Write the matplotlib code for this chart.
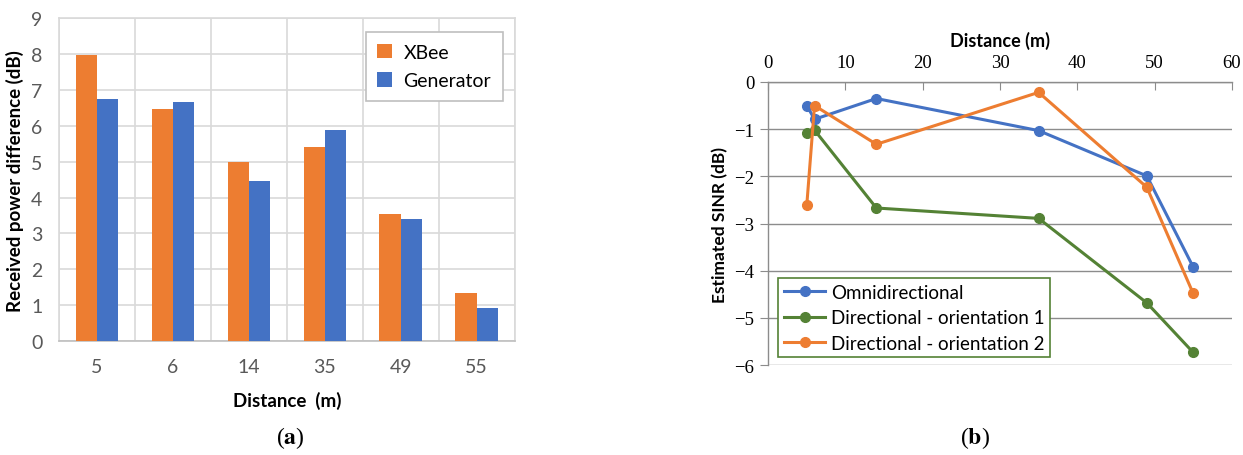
import matplotlib
matplotlib.use('Agg')
import matplotlib.pyplot as plt
import numpy as np

# (a) received power difference per distance
distances = ['5', '6', '14', '35', '49', '55']
xbee = [7.98, 6.47, 5.0, 5.42, 3.53, 1.33]
generator = [6.75, 6.65, 4.45, 5.87, 3.4, 0.93]

# (b) estimated SINR vs distance
dist_m = [5, 6, 14, 35, 49, 55]
omni = [-0.5, -0.79, -0.35, -1.03, -1.99, -3.92]
dir1 = [-1.08, -1.02, -2.67, -2.89, -4.68, -5.73]
dir2 = [-2.6, -0.5, -1.32, -0.22, -2.23, -4.48]

ORANGE = '#ED7D31'
BLUE = '#4472C4'
GREEN = '#548235'
SANS = ['Lato', 'DejaVu Sans']
SERIF = ['Liberation Serif', 'DejaVu Serif']

fig = plt.figure(figsize=(12.43, 4.56), dpi=100)

# ---- left: grouped bars
ax1 = fig.add_axes([0.0475, 0.25, 0.3665, 0.708])
x = np.arange(len(distances))
w = 0.28
ax1.bar(x - w / 2, xbee, w, color=ORANGE, label='XBee', zorder=3)
ax1.bar(x + w / 2, generator, w, color=BLUE, label='Generator', zorder=3)
ax1.set_xlim(-0.5, len(distances) - 0.5)
ax1.set_ylim(0, 9)
ax1.set_yticks(range(10))
ax1.set_xticks(x)
ax1.set_xticklabels(distances)
ax1.set_xticks(np.arange(-0.5, len(distances), 1), minor=True)
ax1.grid(True, which='major', axis='y', color='#d9d9d9', lw=1.2, zorder=0)
ax1.grid(True, which='minor', axis='x', color='#d9d9d9', lw=1.2, zorder=0)
ax1.tick_params(which='both', length=0)
ax1.tick_params(axis='y', pad=12)
ax1.tick_params(axis='x', pad=12)
for lab in ax1.get_xticklabels() + ax1.get_yticklabels():
    lab.set_family(SANS)
    lab.set_fontsize(14)
    lab.set_color('#595959')
for s in ax1.spines.values():
    s.set_color('#d9d9d9')
    s.set_linewidth(1.2)
ax1.spines['bottom'].set_color('#bfbfbf')
ax1.set_xlabel('Distance  (m)', family=SANS, fontsize=13.5, fontweight='bold', labelpad=12)
ax1.set_ylabel('Received power difference (dB)', family=SANS, fontsize=13.5,
               fontweight='bold', labelpad=5)
leg1 = ax1.legend(loc='upper right', bbox_to_anchor=(0.974, 0.957), prop={'family': SANS, 'size': 14},
                  handlelength=0.75, handleheight=0.75, fancybox=False, edgecolor='#bfbfbf',
                  framealpha=1, borderpad=0.6, labelspacing=0.6, handletextpad=0.6,
                  borderaxespad=0)
leg1.get_frame().set_linewidth(1.2)

# ---- right: SINR lines
ax2 = fig.add_axes([0.618, 0.197, 0.373, 0.621])
ax2.plot(dist_m, omni, '-o', color=BLUE, lw=2.2, ms=7, label='Omnidirectional', zorder=3)
ax2.plot(dist_m, dir1, '-o', color=GREEN, lw=2.2, ms=7, label='Directional - orientation 1', zorder=3)
ax2.plot(dist_m, dir2, '-o', color=ORANGE, lw=2.2, ms=7, label='Directional - orientation 2', zorder=3)
ax2.set_xlim(0, 60)
ax2.set_ylim(-6, 0)
ax2.set_xticks(range(0, 61, 10))
ax2.set_yticks(range(-6, 1))
ax2.set_yticklabels(['\u22126', '\u22125', '\u22124', '\u22123', '\u22122', '\u22121', '0'])
ax2.xaxis.tick_top()
ax2.xaxis.set_label_position('top')
ax2.grid(True, axis='y', color='#8c8c8c', lw=1.0, zorder=0)
ax2.spines['right'].set_visible(False)
ax2.spines['bottom'].set_visible(False)
for s in ('top', 'left'):
    ax2.spines[s].set_color('#8c8c8c')
    ax2.spines[s].set_linewidth(1.0)
ax2.tick_params(axis='x', direction='in', length=6, color='#8c8c8c', pad=8)
ax2.tick_params(axis='y', direction='out', length=6, color='#8c8c8c', pad=4)
for lab in ax2.get_xticklabels() + ax2.get_yticklabels():
    lab.set_family(SERIF)
    lab.set_fontsize(13.5)
ax2.set_xlabel('Distance (m)', family=SANS, fontsize=13, fontweight='bold', labelpad=6)
ax2.set_ylabel('Estimated SINR (dB)', family=SANS, fontsize=12.5, fontweight='bold', labelpad=4)
leg2 = ax2.legend(loc='lower left', bbox_to_anchor=(0.022, 0.028), prop={'family': SANS, 'size': 13.5},
                  handlelength=2.2, fancybox=False, edgecolor=GREEN, framealpha=1,
                  borderpad=0.3, labelspacing=0.45, handletextpad=0.3, borderaxespad=0)
leg2.get_frame().set_linewidth(1.2)

# captions
fig.text(0.2335, 0.026, r'($\mathbf{a}$)', ha='center', fontsize=17, family=SERIF, math_fontfamily='stix')
fig.text(0.784, 0.026, r'($\mathbf{b}$)', ha='center', fontsize=17, family=SERIF, math_fontfamily='stix')

fig.savefig('out.png', dpi=100)
